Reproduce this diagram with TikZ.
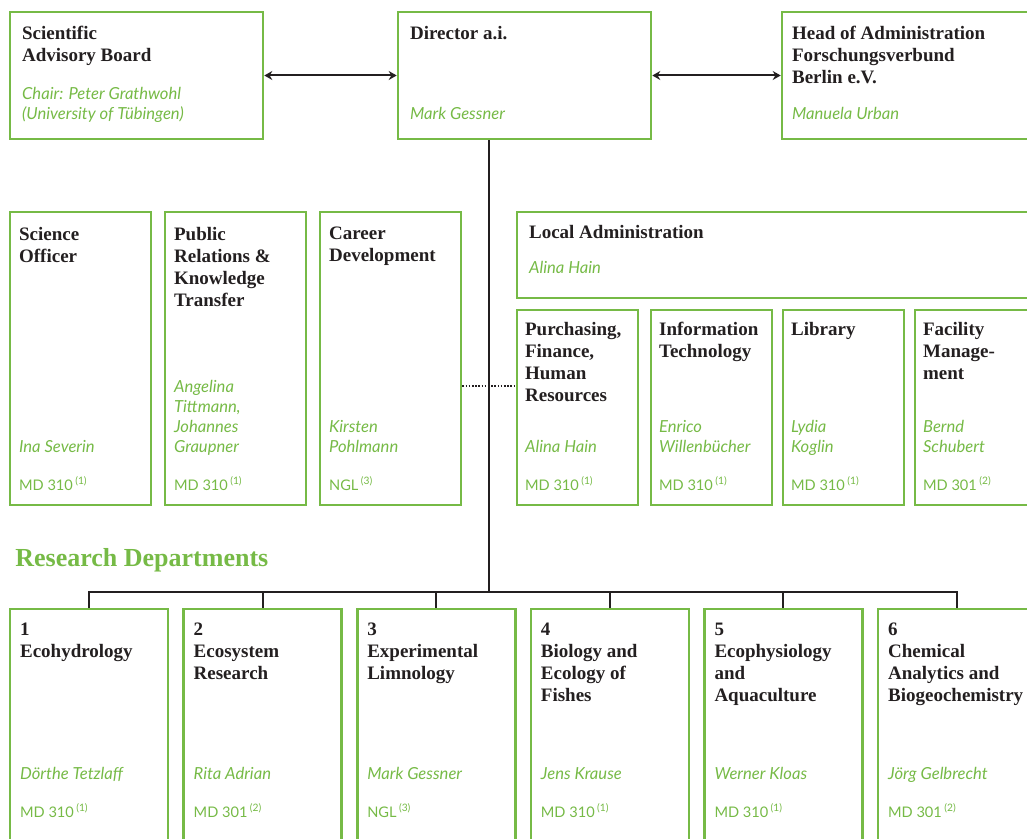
\documentclass[tikz,border=0pt]{standalone}
\usepackage{fontspec}
\setmainfont{Liberation Serif}
\newfontfamily\namefont{Lato}
\usetikzlibrary{
    arrows.meta,
    fit,
    calc
}
\definecolor{fvbgreen}{RGB}{118,186,70}
\definecolor{inkgray}{RGB}{35,31,32}
\newcommand{\paygrade}[2]{#1\,\textsuperscript{(#2)}}
\tikzset{
    % green frame of one unit
    unitbox/.style={draw=fvbgreen, line width=1.3pt, inner sep=0pt},
    title/.style={anchor=north west, inner sep=0pt, align=left, text=inkgray,
        font=\bfseries\fontsize{9.5}{11}\selectfont},
    person/.style={anchor=base west, inner sep=0pt, align=left, text=fvbgreen,
        font=\namefont\itshape\fontsize{8.3}{10}\selectfont},
    grade/.style={anchor=base west, inner sep=0pt, text=fvbgreen,
        font=\namefont\fontsize{7.3}{9}\selectfont},
    link/.style={draw=inkgray, line width=1pt},
    dotlink/.style={draw=inkgray, line width=1pt, dash pattern=on 0.8pt off 0.8pt},
    twoway/.style={link, {Stealth[length=4pt,width=4.5pt]}-{Stealth[length=4pt,width=4.5pt]}}
}

\begin{document}
\begin{tikzpicture}[x=0.5pt, y=-0.5pt]
    \clip (0,0) rectangle (1027,839);
    % board, director, administration
    \node[unitbox, fit={(10,12) (263,139)}] (sab) {};
    \node[unitbox, fit={(398,12) (651,139)}] (dir) {};
    \node[unitbox, fit={(782,12) (1040,139)}] (hoa) {};
    \node[title] (sab-t) at ([shift={(13,15)}]sab.north west) {Scientific\\Advisory Board};
    \node[person] (sab-p) at ([shift={(13,109)}]sab.north west) {Chair: Peter Grathwohl\\(University of Tübingen)};
    \node[title] (dir-t) at ([shift={(13,15)}]dir.north west) {Director a.i.};
    \node[person] (dir-p) at ([shift={(13,109)}]dir.north west) {Mark Gessner};
    \node[title] (hoa-t) at ([shift={(11,15)}]hoa.north west) {Head of Administration\\Forschungsverbund\\Berlin e.V.};
    \node[person] (hoa-p) at ([shift={(11,109)}]hoa.north west) {Manuela Urban};
    \draw[twoway] (sab.east) -- (dir.west);
    \draw[twoway] (dir.east) -- (hoa.west);

    % staff units
    \foreach \k/\x/\ttl/\who/\md in {
        sci/10/{Science\\Officer}/{Ina Severin}/{\paygrade{MD 310}{1}},
        pr/165/{Public\\Relations \&\\Knowledge\\Transfer}/{Angelina\\Tittmann,\\Johannes\\Graupner}/{\paygrade{MD 310}{1}},
        career/320/{Career\\Development}/{Kirsten\\Pohlmann}/{\paygrade{NGL}{3}}} {
        \node[unitbox, fit={(\x,212) (\x+141,505)}] (\k) {};
        \node[title] (\k-t) at ([shift={(10,16)}]\k.north west) {\ttl};
        \node[person] (\k-p) at ([shift={(10,-54)}]\k.south west) {\who};
        \node[grade] (\k-g) at ([shift={(10,-16)}]\k.south west) {\md};
    }

    % local administration
    \node[unitbox, fit={(517,212) (1040,298)}] (locadm) {};
    \node[title] (locadm-t) at ([shift={(13,14)}]locadm.north west) {Local Administration};
    \node[person] (locadm-p) at ([shift={(13,63)}]locadm.north west) {Alina Hain};
    \foreach \k/\x/\ttl/\who/\md in {
        purch/517/{Purchasing,\\Finance,\\Human\\Resources}/{Alina Hain}/{\paygrade{MD 310}{1}},
        it/651/{Information\\Technology}/{Enrico\\Willenbücher}/{\paygrade{MD 310}{1}},
        lib/783/{Library}/{Lydia\\Koglin}/{\paygrade{MD 310}{1}},
        fac/915/{Facility\\Manage-\\ment}/{Bernd\\Schubert}/{\paygrade{MD 301}{2}}} {
        \node[unitbox, fit={(\x,310) (\x+121,505)}] (\k) {};
        \node[title] (\k-t) at ([shift={(9,13)}]\k.north west) {\ttl};
        \node[person] (\k-p) at ([shift={(9,-54)}]\k.south west) {\who};
        \node[grade] (\k-g) at ([shift={(9,-16)}]\k.south west) {\md};
    }
    \coordinate (dotlev) at (0,386);
    \draw[dotlink] (career.east |- dotlev) -- (purch.west |- dotlev);

    % research departments
    \node[anchor=base west, inner sep=0pt, text=fvbgreen, font=\bfseries\fontsize{13}{15}\selectfont] (resdep) at (15,566) {Research Departments};
    \foreach \i/\ttl/\who/\md in {
        1/{Ecohydrology}/{Dörthe Tetzlaff}/{\paygrade{MD 310}{1}},
        2/{Ecosystem\\Research}/{Rita Adrian}/{\paygrade{MD 301}{2}},
        3/{Experimental\\Limnology}/{Mark Gessner}/{\paygrade{NGL}{3}},
        4/{Biology and\\Ecology of\\Fishes}/{Jens Krause}/{\paygrade{MD 310}{1}},
        5/{Ecophysiology\\and\\Aquaculture}/{Werner Kloas}/{\paygrade{MD 310}{1}},
        6/{Chemical\\Analytics and\\Biogeochemistry}/{Jörg Gelbrecht}/{\paygrade{MD 301}{2}}} {
        \pgfmathsetmacro\xl{10+173.6*(\i-1)}
        \node[unitbox, fit={(\xl,609) (\xl+158,850)}] (d\i) {};
        \node[title] (d\i-t) at ([shift={(11,15)}]d\i.north west) {\i\\\ttl};
        \node[person] (d\i-p) at ([shift={(11,172)}]d\i.north west) {\who};
        \node[grade] (d\i-g) at ([shift={(11,210)}]d\i.north west) {\md};
    }
    \coordinate (hub) at (489,592);
    \draw[link] (dir.south -| hub) -- (hub);
    \draw[link] (d1.north) |- (hub) -| (d6.north);
    \foreach \d in {d2,d3,d4,d5}
        \draw[link] (\d.north) -- (\d.north |- hub);
\end{tikzpicture}
\end{document}
